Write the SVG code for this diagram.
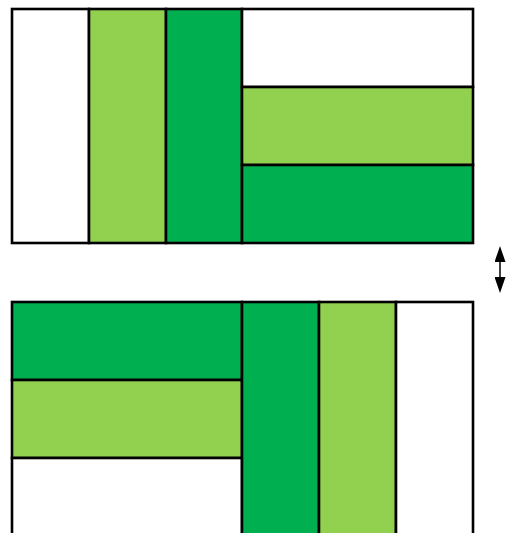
<svg xmlns="http://www.w3.org/2000/svg" width="506" height="533" viewBox="0 0 506 533">
<style>
.w{fill:#FFFFFF;stroke:#000;stroke-width:2.6}
.l{fill:#92D050;stroke:#000;stroke-width:2.6}
.d{fill:#00B050;stroke:#000;stroke-width:2.6}
</style>
<defs>
<marker id="ah" markerWidth="16" markerHeight="11" refX="0" refY="5.5" orient="auto-start-reverse" markerUnits="userSpaceOnUse" viewBox="0 0 16 11">
<path d="M0,0 L16,5.5 L0,11 Z" fill="#000"/>
</marker>
</defs>
<g id="top">
<rect class="w" x="12" y="9" width="77" height="234"/>
<rect class="l" x="89" y="9" width="77" height="234"/>
<rect class="d" x="166" y="9" width="76" height="234"/>
<rect class="w" x="242" y="9" width="231" height="78"/>
<rect class="l" x="242" y="87" width="231" height="78"/>
<rect class="d" x="242" y="165" width="231" height="78"/>
</g>
<g id="bottom">
<rect class="d" x="12" y="302" width="230" height="78"/>
<rect class="l" x="12" y="380" width="230" height="78"/>
<rect class="w" x="12" y="458" width="230" height="80"/>
<rect class="d" x="242" y="302" width="77" height="236"/>
<rect class="l" x="319" y="302" width="77" height="236"/>
<rect class="w" x="396" y="302" width="77" height="236"/>
</g>
<g id="connectors">
<line x1="500" y1="262" x2="500" y2="277" stroke="#404040" stroke-width="2" marker-start="url(#ah)" marker-end="url(#ah)"/>
</g>
</svg>
